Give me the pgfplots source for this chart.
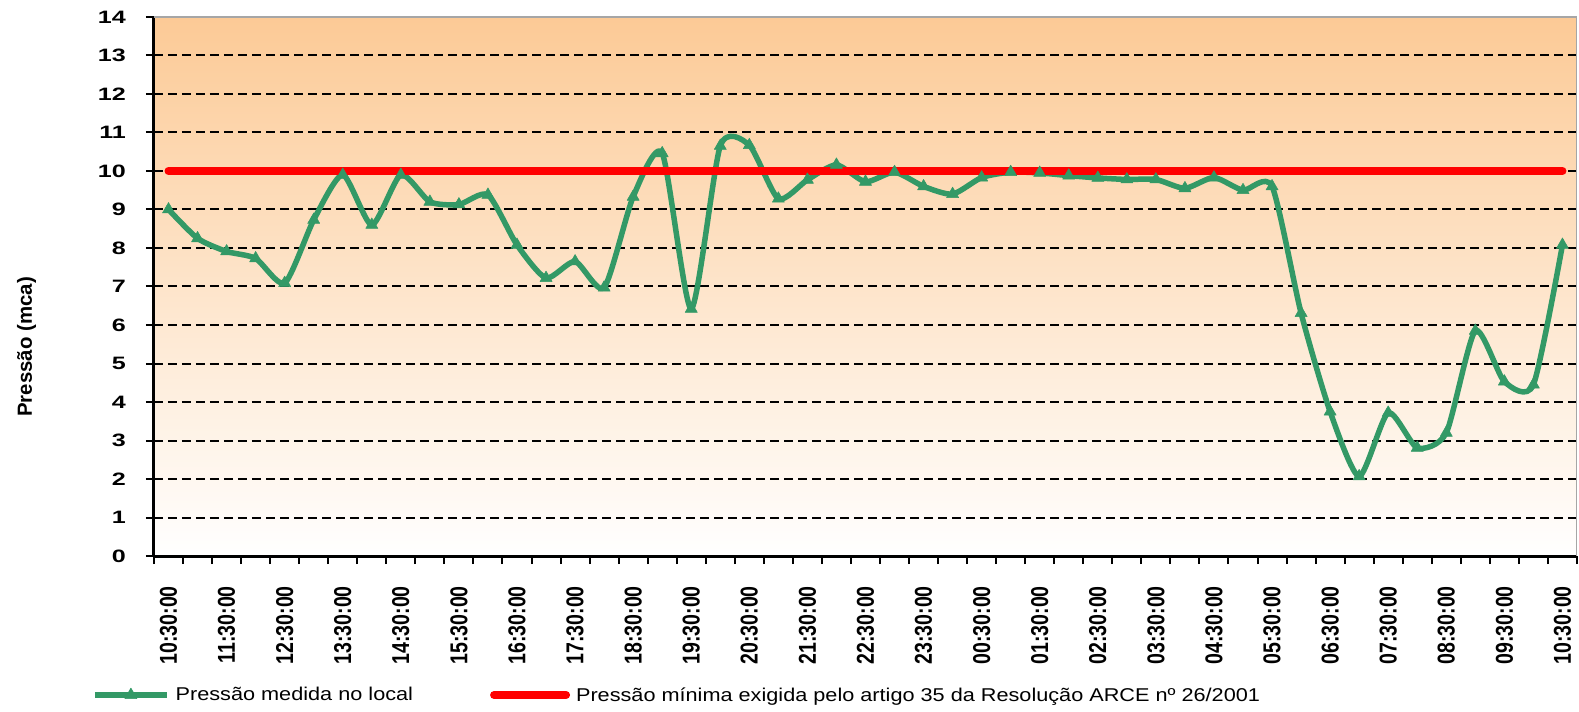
\documentclass[border=0pt]{standalone}
\usepackage{fontspec}
\setmainfont{Liberation Sans}
\newfontfamily\yfont{Liberation Sans}[FakeStretch=1.4]
\newfontfamily\xfont{Liberation Sans}[FakeStretch=0.8]
\newfontfamily\legfont{Liberation Sans}[FakeStretch=1.17]
\usepackage{pgfplots}
\pgfplotsset{compat=1.18}
\definecolor{pgreen}{RGB}{51,153,102}
\definecolor{ptop}{RGB}{252,202,150}
\pgfplotstableread{
x y
0 9.00
1 8.25
2 7.91
3 7.73
4 7.09
5 8.73
6 9.90
7 8.60
8 9.90
9 9.20
10 9.13
11 9.38
12 8.08
13 7.22
14 7.65
15 6.97
16 9.33
17 10.46
18 6.42
19 10.65
20 10.67
21 9.28
22 9.77
23 10.16
24 9.72
25 9.97
26 9.60
27 9.40
28 9.83
29 9.97
30 9.95
31 9.88
32 9.82
33 9.78
34 9.78
35 9.55
36 9.83
37 9.50
38 9.60
39 6.31
40 3.75
41 2.07
42 3.72
43 2.81
44 3.20
45 5.85
46 4.53
47 4.45
48 8.08
}\pressao
\pgfplotstableread{
x y
0 10
48 10
}\minimo
\begin{document}
\begin{tikzpicture}
\begin{axis}[
  at={(0,0)}, anchor=south west,
  scale only axis, width=1423bp, height=539bp,
  xmin=-0.5, xmax=48.5, ymin=0, ymax=14,
  axis x line*=bottom, axis y line*=left,
  axis line style={line width=3bp, black, -},
  ytick={0,1,...,14},
  xtick={-0.5,0.5,...,48.5}, xticklabels={},
  extra x ticks={0,2,...,48},
  extra x tick labels={10:30:00,11:30:00,12:30:00,13:30:00,14:30:00,15:30:00,16:30:00,17:30:00,18:30:00,19:30:00,20:30:00,21:30:00,22:30:00,23:30:00,00:30:00,01:30:00,02:30:00,03:30:00,04:30:00,05:30:00,06:30:00,07:30:00,08:30:00,09:30:00,10:30:00},
  extra x tick style={major tick length=0pt, grid=none},
  tick align=outside,
  major tick length=8bp,
  tick style={line width=2bp, black},
  ymajorgrids,
  major grid style={black, line width=2bp, dash pattern=on 9bp off 5bp},
  axis background/.style={top color=ptop, bottom color=white},
  /pgf/number format/assume math mode=true,
  yticklabel style={font=\yfont\bfseries\fontsize{18}{19}\selectfont, inner sep=0pt, xshift=-20bp},
  xticklabel style={font=\xfont\bfseries\fontsize{24.5}{26}\selectfont, yshift=-30bp, rotate=90, anchor=east, inner sep=0pt},
  ylabel={Pressão (mca)},
  ylabel style={at={(axis description cs:-0.0895,0.388)}, anchor=center, font=\bfseries\fontsize{20.5}{22}\selectfont},
  legend columns=2,
  legend style={at={(axis description cs:-0.0436,-0.2579)}, anchor=west, draw=none, fill=none, inner sep=0pt,
    font=\legfont\fontsize{18.6}{20}\selectfont,
    /tikz/every even column/.append style={column sep=75bp},
    /tikz/every odd column/.append style={column sep=4bp}},
  legend cell align=left,
  legend image code/.code={\draw[mark repeat=2,mark phase=2,#1] plot coordinates {(0bp,0bp) (36bp,0bp) (72bp,0bp)};},
]
\addplot[pgreen, line width=5.5bp, smooth, tension=0.4, mark=triangle*, mark size=7bp, mark options={solid, fill=pgreen, line width=0.5bp}, line join=round] table[x=x,y=y] {\pressao};
\addlegendentry{Pressão medida no local}
\addplot[red, line width=8bp, line cap=round] table[x=x,y=y] {\minimo};
\addlegendentry{Pressão mínima exigida pelo artigo 35 da Resolução ARCE nº 26/2001}
\draw[gray!70, line width=1.5bp] (rel axis cs:0,1) -- (rel axis cs:1,1) -- (rel axis cs:1,0);
\end{axis}
\pgfresetboundingbox
\path[use as bounding box] (-154bp,-156bp) rectangle (1425bp,556bp);
\end{tikzpicture}
\end{document}
